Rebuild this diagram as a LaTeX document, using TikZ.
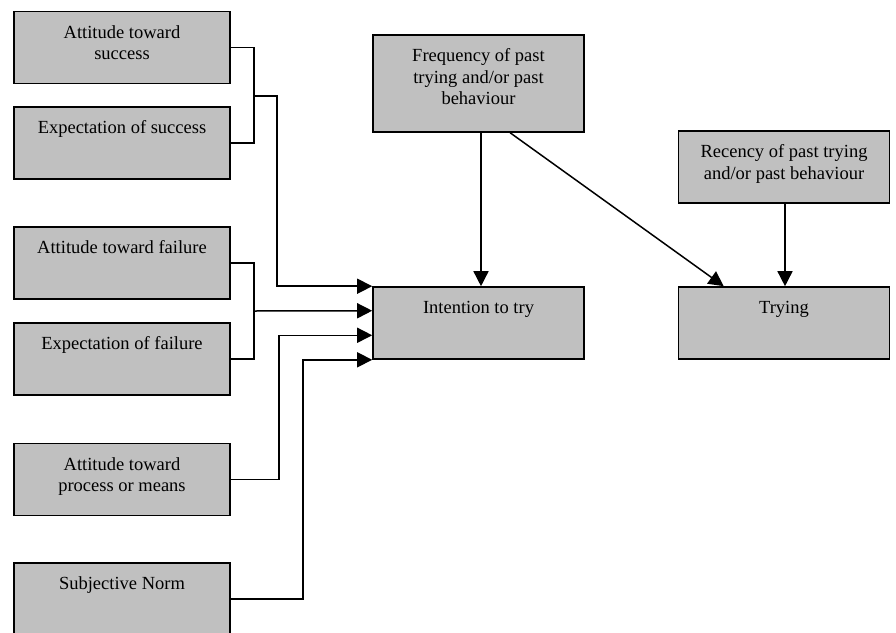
\documentclass[tikz,border=0pt]{standalone}
\usepackage{fontspec}
\setmainfont{Liberation Serif}
\usetikzlibrary{arrows.meta,calc}
\definecolor{boxgray}{RGB}{192,192,192}
\begin{document}
\begin{tikzpicture}[x=1pt,y=-1pt,
  box/.style={draw=black, fill=boxgray, line width=1.6pt, rectangle, inner sep=0pt},
  lbox/.style={box, minimum width=216pt, minimum height=72pt},
  rbox/.style={box, minimum width=211pt, minimum height=72pt},
  lbl/.style={anchor=north, inner sep=0pt, align=center, font=\fontsize{18.5}{21.5}\selectfont},
  conn/.style={draw=black, line width=1.5pt},
  arr/.style={conn, -{Triangle[length=15pt,width=15pt]}}]
\useasboundingbox (0,0) rectangle (896,632);
\clip (0,0) rectangle (896,632);

% left boxes
\node[lbox] (b1) at (122,47.5) {};
\node[lbox] (b2) at (122,143) {};
\node[lbox] (b3) at (122,263) {};
\node[lbox] (b4) at (122,359) {};
\node[lbox] (b5) at (122,479.5) {};
\node[lbox] (b6) at (122,599) {};
% centre and right boxes
\node[rbox, minimum height=97pt] (freq) at (478.5,83.5) {};
\node[rbox] (intent) at (478.5,323) {};
\node[rbox] (rec) at (784,167) {};
\node[rbox] (try) at (784,323) {};

% labels
\node[lbl] (t1) at ($(b1.north)+(0,12.5)$) {\strut Attitude toward\\success};
\node[lbl] (t2) at ($(b2.north)+(0,12.5)$) {\strut Expectation of success};
\node[lbl] (t3) at ($(b3.north)+(0,12.5)$) {\strut Attitude toward failure};
\node[lbl] (t4) at ($(b4.north)+(0,12.5)$) {\strut Expectation of failure};
\node[lbl] (t5) at ($(b5.north)+(0,12.5)$) {\strut Attitude toward\\process or means};
\node[lbl] (t6) at ($(b6.north)+(0,12.5)$) {\strut Subjective Norm};
\node[lbl] (tf) at ($(freq.north)+(0,12.5)$) {\strut Frequency of past\\trying and/or past\\behaviour};
\node[lbl] (ti) at ($(intent.north)+(0,12.5)$) {\strut Intention to try};
\node[lbl] (tr) at ($(rec.north)+(0,12.5)$) {\strut Recency of past trying\\and/or past behaviour};
\node[lbl] (tt) at ($(try.north)+(0,12.5)$) {\strut Trying};

% connectors
\coordinate (j1) at (254,96);
\coordinate (k1) at (277,96);
\draw[conn] (b1.east) -| (j1) |- (b2.east);
\draw[arr] (j1) -- (k1) |- (intent.north west);

\coordinate (j2) at (254,311);
\draw[conn] (b3.east) -| (j2) |- (b4.east);
\draw[arr] (j2) -- ($(intent.north west)!1/3!(intent.south west)$);

\draw[arr] (b5.east) -- ++(48,0) |- ($(intent.north west)!2/3!(intent.south west)$);
\draw[arr] (b6.east) -- ++(72,0) |- (intent.south west);

\draw[arr] ($(freq.south)+(2.5,0)$) -- ($(intent.north)+(2.5,0)$);
\draw[arr] ($(freq.south west)!0.649!(freq.south east)$) -- ($(try.north west)+(46,0)$);
\draw[arr] ($(rec.south)+(1,0)$) -- ($(try.north)+(1,0)$);
\end{tikzpicture}
\end{document}
